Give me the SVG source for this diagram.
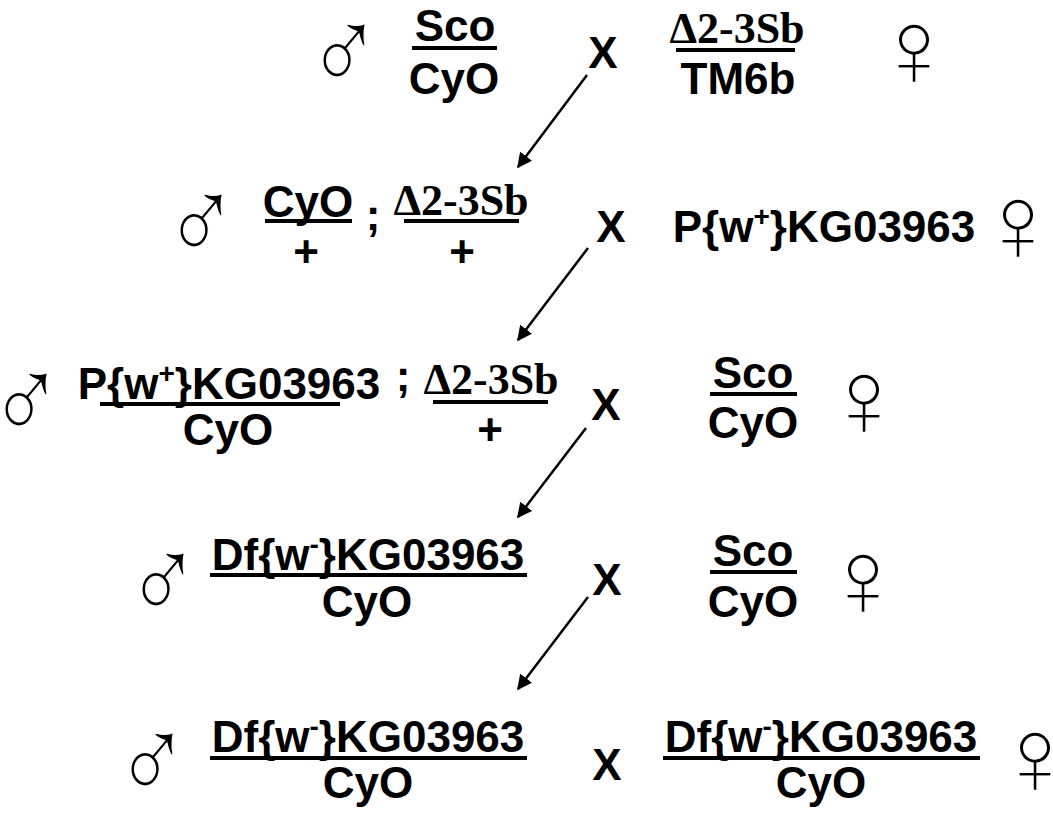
<svg xmlns="http://www.w3.org/2000/svg" width="1053" height="814" viewBox="0 0 1053 814">
  <style>
    .g { font-family: "Liberation Sans", Arial, sans-serif; font-weight: bold; font-size: 44px; text-anchor: middle; fill: #000; }
    .r { font-family: "Liberation Serif", "Times New Roman", serif; font-weight: bold; font-size: 44px; text-anchor: middle; fill: #000; }
    .sup { font-size: 28px; }
    .sym { font-family: "Liberation Sans", Arial, sans-serif; font-weight: normal; font-size: 112px; text-anchor: middle; fill: #000; stroke: #fff; stroke-width: 1.4px; }
    .bar { stroke: #000; stroke-width: 4; }
    .arr { stroke: #000; stroke-width: 2.5; fill: none; marker-end: url(#head); }
  </style>
  <defs>
    <marker id="head" viewBox="0 0 10 10" refX="9" refY="5" markerWidth="6" markerHeight="6" orient="auto" markerUnits="strokeWidth">
      <path d="M0,0 L10,5 L0,10 z" fill="#000"/>
    </marker>
  </defs>
  <rect width="1053" height="814" fill="#fff"/>

  <!-- generation 1 -->
  <g id="p1-male">
    <text class="sym" transform="translate(344,92) scale(0.9,1.08)">♂</text>
    <text class="g" x="455" y="41">Sco</text>
    <line class="bar" x1="412" y1="48" x2="497" y2="48"/>
    <text class="g" x="454" y="94">CyO</text>
  </g>
  <g id="p1-cross"><text class="g" x="603" y="68">X</text></g>
  <g id="p1-female">
    <text class="r" x="737" y="43">Δ2-3Sb</text>
    <line class="bar" x1="676" y1="50" x2="795" y2="50"/>
    <text class="g" x="738" y="94">TM6b</text>
    <text class="sym" x="914" y="87">♀</text>
  </g>

  <!-- generation 2 -->
  <g id="p2-male">
    <text class="sym" transform="translate(201,262) scale(0.9,1.08)">♂</text>
    <text class="g" x="308" y="217">CyO</text>
    <line class="bar" x1="265" y1="221" x2="352" y2="221"/>
    <text class="g" x="306" y="267">+</text>
    <text class="g" x="373" y="230">;</text>
    <text class="r" x="461" y="215">Δ2-3Sb</text>
    <line class="bar" x1="404" y1="221" x2="519" y2="221"/>
    <text class="g" x="462" y="267">+</text>
  </g>
  <g id="p2-cross"><text class="g" x="611" y="242">X</text></g>
  <g id="p2-female">
    <text class="g" x="824" y="242">P{w<tspan class="sup" dy="-16">+</tspan><tspan dy="16">}KG03963</tspan></text>
    <text class="sym" x="1018" y="262">♀</text>
  </g>

  <!-- generation 3 -->
  <g id="p3-male">
    <text class="sym" transform="translate(26,441) scale(0.9,1.08)">♂</text>
    <text class="g" x="229" y="399">P{w<tspan class="sup" dy="-16">+</tspan><tspan dy="16">}KG03963</tspan></text>
    <line class="bar" x1="100" y1="404" x2="340" y2="404"/>
    <text class="g" x="228" y="445">CyO</text>
    <text class="g" x="403" y="391">;</text>
    <text class="r" x="491" y="394">Δ2-3Sb</text>
    <line class="bar" x1="433" y1="402" x2="548" y2="402"/>
    <text class="g" x="490" y="445">+</text>
  </g>
  <g id="p3-cross"><text class="g" x="606" y="420">X</text></g>
  <g id="p3-female">
    <text class="g" x="753" y="388">Sco</text>
    <line class="bar" x1="710" y1="394" x2="797" y2="394"/>
    <text class="g" x="753" y="438">CyO</text>
    <text class="sym" x="864" y="437">♀</text>
  </g>

  <!-- generation 4 -->
  <g id="p4-male">
    <text class="sym" transform="translate(163,621) scale(0.9,1.08)">♂</text>
    <text class="g" x="368" y="570">Df{w<tspan class="sup" dy="-16">-</tspan><tspan dy="16">}KG03963</tspan></text>
    <line class="bar" x1="210" y1="575" x2="527" y2="575"/>
    <text class="g" x="367" y="617">CyO</text>
  </g>
  <g id="p4-cross"><text class="g" x="607" y="595">X</text></g>
  <g id="p4-female">
    <text class="g" x="753" y="566">Sco</text>
    <line class="bar" x1="710" y1="572" x2="797" y2="572"/>
    <text class="g" x="753" y="617">CyO</text>
    <text class="sym" x="863" y="617">♀</text>
  </g>

  <!-- generation 5 -->
  <g id="p5-male">
    <text class="sym" transform="translate(152,801) scale(0.9,1.08)">♂</text>
    <text class="g" x="368" y="752">Df{w<tspan class="sup" dy="-16">-</tspan><tspan dy="16">}KG03963</tspan></text>
    <line class="bar" x1="210" y1="758" x2="527" y2="758"/>
    <text class="g" x="368" y="798">CyO</text>
  </g>
  <g id="p5-cross"><text class="g" x="607" y="780">X</text></g>
  <g id="p5-female">
    <text class="g" x="821" y="752">Df{w<tspan class="sup" dy="-16">-</tspan><tspan dy="16">}KG03963</tspan></text>
    <line class="bar" x1="663" y1="758" x2="980" y2="758"/>
    <text class="g" x="821" y="798">CyO</text>
    <text class="sym" x="1035" y="795">♀</text>
  </g>

  <!-- descent arrows between generations -->
  <g id="connectors">
    <line class="arr" x1="587" y1="75" x2="518" y2="167"/>
    <line class="arr" x1="588" y1="248" x2="518" y2="340"/>
    <line class="arr" x1="586" y1="428" x2="518" y2="517"/>
    <line class="arr" x1="588" y1="597" x2="518" y2="689"/>
  </g>
</svg>
